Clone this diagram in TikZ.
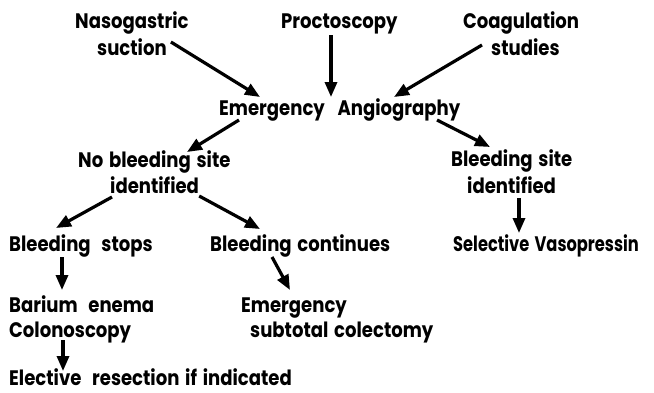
\documentclass[tikz,border=0pt]{standalone}
\usepackage{fontspec}
\setmainfont{Poppins}[FakeStretch=0.86,WordSpace=1.5,BoldFeatures={FakeStretch=0.86}]
\usetikzlibrary{arrows.meta,calc}
\tikzset{
  txt/.style={anchor=base west,inner sep=0pt,font=\fontsize{21}{23}\selectfont\bfseries},
  arr/.style={line width=3.2pt,-{Triangle[length=15pt,width=12pt]}}
}
\begin{document}
\begin{tikzpicture}[x=1pt,y=-1pt]
\useasboundingbox (0,0) rectangle (654,392);
\node[txt] (ng1) at (75,28) {Nasogastric};
\node[txt] (ng2) at (97,55) {suction};
\node[txt] (pr) at (281,28) {Proctoscopy};
\node[txt] (co1) at (463,28) {Coagulation};
\node[txt] (co2) at (491,55) {studies};
\node[txt] (ea) at (219,115) {Emergency\hspace{7pt} Angiography};
\node[txt] (nb1) at (78,167) {No bleeding site};
\node[txt] (nb2) at (110,193) {identified};
\node[txt] (bs1) at (451,166) {Bleeding site};
\node[txt] (bs2) at (467,193) {identified};
\node[txt] (st) at (9,251) {Bleeding\hspace{5pt} stops};
\node[txt] (ct) at (210,251) {Bleeding continues};
\node[txt] (sv) at (453,251) {\scalebox{0.9}[1]{Selective Vasopressin}};
\node[txt] (ba) at (9,312) {Barium\hspace{5pt} enema};
\node[txt] (cl) at (9,337) {Colonoscopy};
\node[txt] (em) at (241,312) {Emergency};
\node[txt] (sc) at (250,337) {subtotal colectomy};
\node[txt] (el) at (9,385) {Elective\hspace{5pt} resection if indicated};
\draw[arr] ($(ng2.base east)+(4pt,13pt)$) -- ($(ea.base west)+(41pt,18pt)$);
\draw[arr] ($(pr.base west)+(50pt,-7pt)$) -- ($(ea.base west)+(112pt,18pt)$);
\draw[arr] ($(co2.base west)+(-9pt,10pt)$) -- ($(ea.base west)+(175pt,18pt)$);
\draw[arr] ($(ea.base west)+(20pt,-5pt)$) -- ($(nb1.base west)+(109pt,15pt)$);
\draw[arr] ($(ea.base west)+(218pt,-5pt)$) -- ($(bs1.base west)+(39pt,19pt)$);
\draw[arr] ($(nb2.base west)+(2pt,-4pt)$) -- ($(st.base west)+(47pt,23pt)$);
\draw[arr] ($(nb2.base east)+(0pt,-3pt)$) -- ($(ct.base west)+(50pt,22pt)$);
\draw[arr] ($(bs2.base west)+(52pt,-5pt)$) -- ($(sv.base west)+(66pt,18pt)$);
\draw[arr] ($(st.base west)+(53pt,-6pt)$) -- ($(ba.base west)+(53pt,22pt)$);
\draw[arr] ($(ct.base west)+(62pt,-6pt)$) -- ($(em.base west)+(49pt,22pt)$);
\draw[arr] ($(cl.base west)+(54pt,-3pt)$) -- ($(el.base west)+(54pt,14pt)$);
\end{tikzpicture}
\end{document}
